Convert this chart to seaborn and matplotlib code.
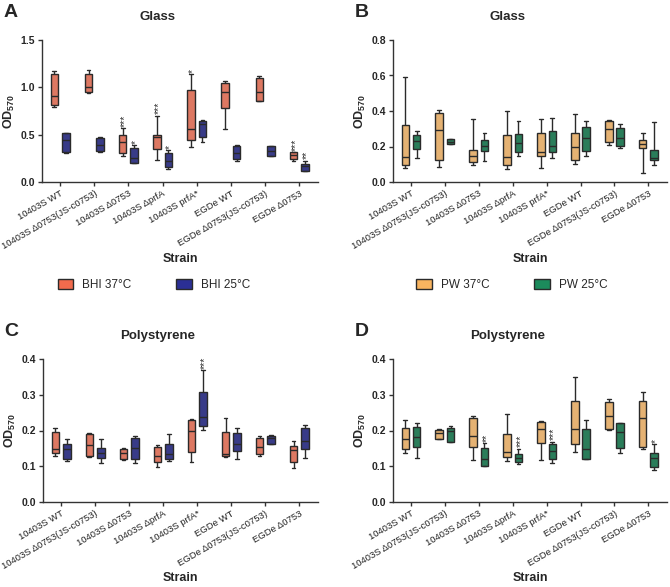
import numpy as np
import pandas as pd
import seaborn as sns
import matplotlib.pyplot as plt
from matplotlib.patches import Patch

strains = ['10403S WT', '10403S Δ0753(JS-c0753)', '10403S Δ0753', '10403S ΔprfA',
           '10403S prfA*', 'EGDe WT', 'EGDe Δ0753(JS-c0753)', 'EGDe Δ0753']

# five-number summaries per strain: min, q1, median, q3, max
glass_bhi37 = [[0.796, 0.813, 0.908, 1.137, 1.176], [0.940, 0.954, 1.007, 1.141, 1.183],
               [0.275, 0.310, 0.419, 0.500, 0.567], [0.232, 0.345, 0.472, 0.493, 0.700],
               [0.370, 0.440, 0.556, 0.968, 1.137], [0.560, 0.778, 0.947, 1.046, 1.067],
               [0.856, 0.858, 0.951, 1.095, 1.123], [0.222, 0.239, 0.285, 0.315, 0.317]]
glass_bhi25 = [[0.310, 0.317, 0.444, 0.519, 0.521], [0.317, 0.331, 0.390, 0.465, 0.472],
               [0.197, 0.204, 0.254, 0.363, 0.387], [0.137, 0.155, 0.222, 0.310, 0.338],
               [0.426, 0.472, 0.609, 0.644, 0.651], [0.222, 0.239, 0.310, 0.377, 0.390],
               [0.275, 0.278, 0.331, 0.380, 0.384], [0.116, 0.120, 0.169, 0.187, 0.225]]
glass_pw37 = [[0.079, 0.098, 0.139, 0.323, 0.593], [0.086, 0.124, 0.293, 0.389, 0.404],
              [0.098, 0.113, 0.146, 0.180, 0.355], [0.075, 0.094, 0.139, 0.263, 0.398],
              [0.079, 0.146, 0.169, 0.274, 0.357], [0.101, 0.124, 0.199, 0.274, 0.383],
              [0.207, 0.225, 0.297, 0.344, 0.349], [0.049, 0.192, 0.212, 0.237, 0.274]]
glass_pw25 = [[0.135, 0.186, 0.231, 0.263, 0.285], [0.216, 0.216, 0.227, 0.242, 0.242],
              [0.118, 0.173, 0.203, 0.237, 0.278], [0.146, 0.171, 0.218, 0.272, 0.342],
              [0.135, 0.169, 0.203, 0.285, 0.359], [0.148, 0.177, 0.250, 0.310, 0.346],
              [0.190, 0.203, 0.250, 0.306, 0.327], [0.098, 0.124, 0.133, 0.182, 0.338]]
poly_bhi37 = [[0.128, 0.136, 0.149, 0.197, 0.207], [0.127, 0.129, 0.159, 0.189, 0.193],
              [0.117, 0.121, 0.136, 0.148, 0.150], [0.098, 0.111, 0.129, 0.153, 0.160],
              [0.112, 0.140, 0.198, 0.228, 0.232], [0.126, 0.129, 0.134, 0.196, 0.236],
              [0.128, 0.134, 0.154, 0.178, 0.185], [0.095, 0.111, 0.145, 0.157, 0.171]]
poly_bhi25 = [[0.115, 0.121, 0.148, 0.161, 0.175], [0.110, 0.122, 0.136, 0.151, 0.175],
              [0.110, 0.121, 0.152, 0.179, 0.184], [0.114, 0.121, 0.133, 0.163, 0.189],
              [0.201, 0.213, 0.238, 0.307, 0.368], [0.121, 0.142, 0.161, 0.193, 0.207],
              [0.161, 0.162, 0.178, 0.186, 0.187], [0.123, 0.149, 0.170, 0.206, 0.215]]
poly_pw37 = [[0.136, 0.147, 0.176, 0.207, 0.228], [0.175, 0.177, 0.193, 0.202, 0.203],
             [0.117, 0.153, 0.186, 0.236, 0.240], [0.114, 0.126, 0.140, 0.191, 0.245],
             [0.117, 0.165, 0.203, 0.223, 0.226], [0.140, 0.163, 0.204, 0.283, 0.350],
             [0.201, 0.203, 0.240, 0.281, 0.288], [0.149, 0.153, 0.235, 0.283, 0.308]]
poly_pw25 = [[0.123, 0.155, 0.182, 0.211, 0.221], [0.167, 0.168, 0.199, 0.206, 0.212],
             [0.100, 0.102, 0.120, 0.151, 0.165], [0.107, 0.113, 0.123, 0.134, 0.149],
             [0.108, 0.121, 0.144, 0.161, 0.169], [0.119, 0.121, 0.147, 0.204, 0.229],
             [0.138, 0.151, 0.195, 0.220, 0.221], [0.089, 0.097, 0.124, 0.137, 0.162]]

sig_glass_bhi37 = ['', '', '***', '***', '*', '', '', '***']
sig_glass_bhi25 = ['', '', '*', '*', '', '', '', '**']
sig_poly_bhi25 = ['', '', '', '', '***', '', '', '']
sig_poly_pw25 = ['', '', '**', '***', '***', '', '', '*']
no_sig = [''] * 8

red, blue = '#F26B4D', '#2B2F95'
orange, green = '#F8B460', '#1C8B5C'

sns.set_style('ticks')
plt.rcParams['font.family'] = ['Liberation Sans', 'DejaVu Sans']
plt.rcParams['mathtext.fontset'] = 'custom'
plt.rcParams['mathtext.rm'] = 'Liberation Sans'
plt.rcParams['mathtext.bf'] = 'Liberation Sans:bold'

fig = plt.figure(figsize=(6.7, 5.87), dpi=100)
W, H = 670, 587


def add_ax(left, top, right, bottom):
    return fig.add_axes([left / W, 1 - bottom / H, (right - left) / W, (bottom - top) / H])


def panel(ax, s1, s2, n1, n2, c1, c2, sig1, sig2, ymax, step, title, letter, xlabel_y):
    rows = []
    for i, st in enumerate(strains):
        for v in s1[i]:
            rows.append((st, n1, v))
        for v in s2[i]:
            rows.append((st, n2, v))
    df = pd.DataFrame(rows, columns=['Strain', 'Condition', 'OD'])
    sns.boxplot(data=df, x='Strain', y='OD', hue='Condition', order=strains,
                hue_order=[n1, n2], palette={n1: c1, n2: c2}, whis=(0, 100),
                width=0.67, gap=0.34, linecolor='#2a2a2a', linewidth=1.0,
                showfliers=False, legend=False, ax=ax)
    off = 0.1675
    for i in range(len(strains)):
        for s, summ, dx in ((sig1, s1, -off), (sig2, s2, off)):
            if s[i]:
                # asterisks sit high in the glyph box, nudge right once rotated
                ax.text(i + dx + 0.06, summ[i][4] + ymax * 0.01, s[i], rotation=90,
                        ha='center', va='bottom', fontsize=7.5, color='#333333')
    ax.set_xlim(-0.53, 7.55)
    ax.set_ylim(0, ymax)
    ax.set_yticks(np.arange(0, ymax + 1e-9, step))
    ax.set_yticklabels([f'{t:.1f}' for t in np.arange(0, ymax + 1e-9, step)],
                       fontweight='bold', fontsize=7.5)
    ax.set_xticks(range(len(strains)))
    ax.set_xticklabels(strains, rotation=30, ha='right', rotation_mode='anchor',
                       fontsize=6.8, color='#222222')
    sns.despine(ax=ax)
    for sp in ('left', 'bottom'):
        ax.spines[sp].set_linewidth(1.0)
        ax.spines[sp].set_color('#333333')
    ax.tick_params(length=3, width=1, color='#333333', pad=2)
    ax.set_ylabel(r'$\mathbf{OD}_{\mathbf{570}}$', fontsize=9)
    ax.yaxis.set_label_coords(-0.09, 0.5)
    ax.set_xlabel('Strain', fontsize=9, fontweight='bold')
    ax.xaxis.set_label_coords(0.5, xlabel_y)
    ax.text(0.417, 1.16, title, transform=ax.transAxes, ha='center', va='center',
            fontsize=9.5, fontweight='bold')
    ax.text(-0.115, 1.195, letter, transform=ax.transAxes, ha='center', va='center',
            fontsize=14, fontweight='bold')


axA = add_ax(42, 40, 318, 182)
axB = add_ax(393, 40, 667, 182)
axC = add_ax(43, 359, 318, 502)
axD = add_ax(393, 359, 667, 502)

panel(axA, glass_bhi37, glass_bhi25, 'BHI 37°C', 'BHI 25°C', red, blue,
      sig_glass_bhi37, sig_glass_bhi25, 1.5, 0.5, 'Glass', 'A', -0.5)
panel(axB, glass_pw37, glass_pw25, 'PW 37°C', 'PW 25°C', orange, green,
      no_sig, no_sig, 0.8, 0.2, 'Glass', 'B', -0.5)
panel(axC, poly_bhi37, poly_bhi25, 'BHI 37°C', 'BHI 25°C', red, blue,
      no_sig, sig_poly_bhi25, 0.4, 0.1, 'Polystyrene', 'C', -0.49)
panel(axD, poly_pw37, poly_pw25, 'PW 37°C', 'PW 25°C', orange, green,
      no_sig, sig_poly_pw25, 0.4, 0.1, 'Polystyrene', 'D', -0.49)

for (n1, n2, c1, c2, cx) in (('BHI 37°C', 'BHI 25°C', red, blue, 154),
                             ('PW 37°C', 'PW 25°C', orange, green, 512)):
    handles = [Patch(facecolor=c1, edgecolor='#2a2a2a', linewidth=1, label=n1),
               Patch(facecolor=c2, edgecolor='#2a2a2a', linewidth=1, label=n2)]
    fig.legend(handles=handles, loc='center', bbox_to_anchor=(cx / W, 1 - 285 / H),
               ncol=2, frameon=False, fontsize=8.5, handlelength=1.3, handleheight=0.9,
               handletextpad=0.8, columnspacing=3.8)

fig.savefig('out.png', dpi=100)
